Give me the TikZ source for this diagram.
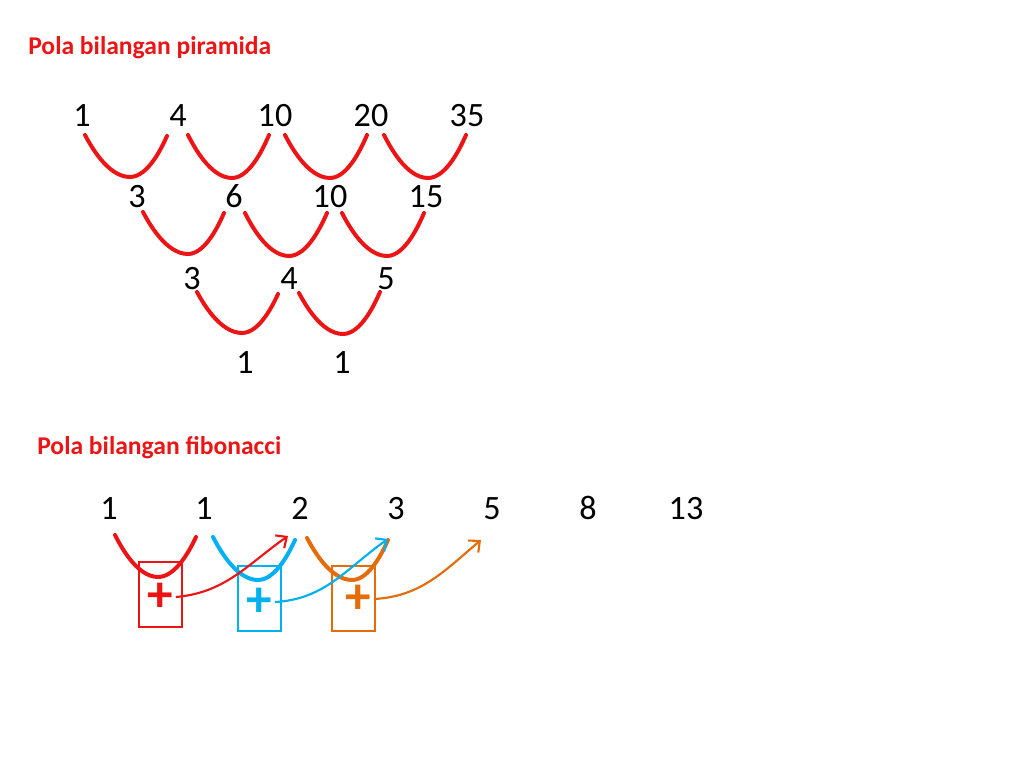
\documentclass[tikz,border=0pt]{standalone}
\usepackage{fontspec}
\setmainfont{Carlito}
\usetikzlibrary{arrows.meta}
\definecolor{pptred}{RGB}{236,20,20}
\definecolor{pptblue}{RGB}{0,176,240}
\definecolor{pptorange}{RGB}{228,108,10}
\tikzstyle{title} = [anchor=base west, inner sep=0pt, font=\fontsize{18}{22}\selectfont\bfseries, text=pptred]
\tikzstyle{num} = [anchor=base, inner sep=0pt, font=\fontsize{24}{29}\selectfont]
\tikzstyle{bowl} = [line width=2.8pt, line cap=round]
\tikzstyle{plusbox} = [rectangle, draw, line width=0.9pt, minimum width=30.2pt, minimum height=45.7pt, inner sep=0pt]
\tikzstyle{plussign} = [inner sep=2pt, font=\fontsize{36}{40}\selectfont\bfseries]
\tikzstyle{arrow} = [line width=1.5pt, -{Straight Barb[length=6pt, width=11pt]}]
\begin{document}
\begin{tikzpicture}[x=0.703125pt, y=-0.703125pt]
\useasboundingbox (0,0) rectangle (1024,768);

\node (title1) [title] at (28,55) {Pola bilangan piramida};

\node (a1) [num] at (82,127) {1};
\node (a2) [num] at (178,127) {4};
\node (a3) [num] at (275,127) {10};
\node (a4) [num] at (371,127) {20};
\node (a5) [num] at (467,127) {35};
\node (b1) [num] at (137,208) {3};
\node (b2) [num] at (234,208) {6};
\node (b3) [num] at (330,208) {10};
\node (b4) [num] at (426,208) {15};
\node (c1) [num] at (192,290) {3};
\node (c2) [num] at (289,290) {4};
\node (c3) [num] at (386,290) {5};
\node (d1) [num] at (245,373) {1};
\node (d2) [num] at (342,373) {1};

\draw [bowl, pptred] (85,135) parabola bend (130,177) (167,136);
\draw [bowl, pptred] (188,135) parabola bend (232,178) (269,135);
\draw [bowl, pptred] (285,135) parabola bend (330,178) (367,135);
\draw [bowl, pptred] (384,135) parabola bend (428,178) (466,135);
\draw [bowl, pptred] (143,212) parabola bend (188,254) (224,213);
\draw [bowl, pptred] (245,213) parabola bend (289,256) (327,213);
\draw [bowl, pptred] (342,213) parabola bend (387,256) (424,213);
\draw [bowl, pptred] (197,292) parabola bend (242,333) (278,294);
\draw [bowl, pptred] (299,293) parabola bend (343,334) (380,292);

\node (title2) [title] at (37,454) {Pola bilangan fibonacci};

\node (f1) [num] at (109,519) {1};
\node (f2) [num] at (204,519) {1};
\node (f3) [num] at (300,519) {2};
\node (f4) [num] at (396,519) {3};
\node (f5) [num] at (492,519) {5};
\node (f6) [num] at (588,519) {8};
\node (f7) [num] at (686,519) {13};

\node (rbox) [plusbox, draw=pptred] at (160.5,594.5) {};
\node (bbox) [plusbox, draw=pptblue] at (259.5,598.5) {};
\node (obox) [plusbox, draw=pptorange] at (353.5,598.5) {};

\draw [bowl, pptred] (115,535) parabola bend (158,577) (196,537);
\draw [bowl, pptblue] (213,537) parabola bend (258,580) (295,540);
\draw [bowl, pptorange] (307,538) parabola bend (352,580) (388,540);

\node (rplus) [plussign, text=pptred] at (160,597) {+};
\node (bplus) [plussign, text=pptblue] at (259,602) {+};
\node (oplus) [plussign, text=pptorange] at (358,599) {+};

\coordinate (rtip) at (288,536);
\coordinate (btip) at (388,539);
\coordinate (otip) at (481,540);

\draw [arrow, pptred] (rplus.east) to[out=5, in=-145] (rtip);
\draw [arrow, pptblue] (bplus.east) to[out=3, in=-145] (btip);
\draw [arrow, pptorange] (oplus.east) to[out=3, in=-140] (otip);

\end{tikzpicture}
\end{document}
